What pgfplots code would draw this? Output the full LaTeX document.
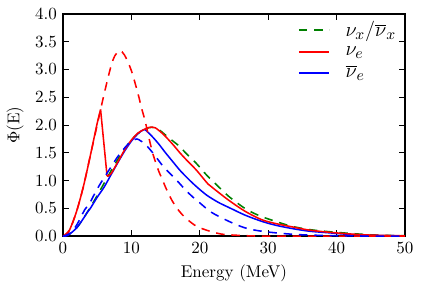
\documentclass[border=0pt]{standalone}
\usepackage{pgfplots}
\pgfplotsset{compat=1.18}
\definecolor{mgreen}{rgb}{0,0.5,0}
\begin{document}
\begin{tikzpicture}
\begin{axis}[
  name=ax,
  scale only axis, width=201pt, height=130.6pt,
  xmin=0, xmax=50, ymin=0, ymax=4,
  xtick={0,10,20,30,40,50},
  ytick={0,0.5,1,1.5,2,2.5,3,3.5,4},
  tick align=inside, major tick length=3.5pt,
  axis line style={line width=0.9pt},
  tick style={line width=0.6pt, black},
  yticklabel style={/pgf/number format/.cd, fixed, fixed zerofill, precision=1},
  xlabel={Energy (MeV)}, ylabel={$\Phi$(E)},
  legend style={draw=none, fill=none, at={(0.985,0.985)}, anchor=north east,
    font=\fontsize{13}{13}\selectfont, row sep=0.5pt, inner sep=0pt,
    /tikz/every odd column/.append style={column sep=7pt}},
  legend cell align=left,
  legend image code/.code={\draw[#1, line width=0.9pt] (0pt,0pt) -- (18pt,0pt);},
  every axis plot/.append style={line width=0.9pt},
]
% green dashed nu_x
\addplot[mgreen, dash pattern=on 5pt off 4pt, smooth, tension=0.5] coordinates {
(0,0) (1,0.04) (2,0.15) (2.5,0.23) (3,0.32) (4,0.52) (5,0.73) (6,0.95) (7,1.17) (8,1.38) (9,1.57) (10,1.73) (11,1.85) (12,1.93) (13,1.96) (14,1.92) (14.9,1.83) (16,1.72) (17.1,1.61) (18,1.49) (19.5,1.31) (21,1.1) (22.5,0.92) (24.2,0.72) (26.6,0.5) (28.5,0.38) (30.5,0.29) (33.4,0.18) (36,0.12) (39,0.08) (42,0.05) (45,0.025) (48,0.012) (50,0.008)};
\addlegendentry{$\nu_x/\overline{\nu}_x$}
% red solid nu_e (rise)
\addplot[red, smooth, tension=0.5] coordinates {
(0,0) (0.5,0.02) (1,0.12) (2,0.45) (3,0.9) (4,1.45) (5,2.03) (5.5,2.28)};
\addlegendentry{$\nu_e$}
% blue solid anti nu_e (rise)
\addplot[blue, smooth, tension=0.5] coordinates {
(0,0) (0.5,0.005) (1,0.04) (2,0.15) (3,0.32) (3.5,0.42) (4,0.5) (5,0.7) (6,0.88) (7,1.1) (8,1.32) (9,1.53) (10,1.71) (11,1.85) (11.7,1.91) (12,1.92)};
\addlegendentry{$\overline{\nu}_e$}
% blue solid fall
\addplot[blue, smooth, tension=0.5, forget plot] coordinates {
(12,1.92) (13,1.8) (14,1.66) (15,1.5) (16,1.35) (17,1.2) (18,1.07) (19,0.95) (20,0.84) (21,0.74) (22,0.66) (23,0.59) (24.2,0.52) (26.6,0.38) (29,0.27) (31,0.2) (33.4,0.14) (36,0.09) (39,0.06) (42,0.03) (45,0.015) (50,0.005)};
% red solid drop
\addplot[red, forget plot] coordinates {(5.5,2.28) (6.45,1.08)};
% red solid rest
\addplot[red, smooth, tension=0.5, forget plot] coordinates {
(6.45,1.08) (7,1.12) (8,1.33) (9,1.55) (10,1.73) (11,1.86) (12,1.93) (12.7,1.96) (13.5,1.95) (14.7,1.83) (16,1.66) (17.1,1.5) (18,1.38) (19.5,1.19) (21.2,0.94) (22,0.86) (24.2,0.65) (26.6,0.45) (29,0.3) (31,0.23) (33.4,0.17) (36,0.11) (39,0.07) (42,0.04) (45,0.02) (50,0.006)};
% red dashed
\addplot[red, dash pattern=on 5pt off 4pt, smooth, tension=0.5, forget plot] coordinates {
(0,0) (1,0.12) (2,0.45) (3,0.9) (4,1.45) (5,2.0) (6,2.55) (7,3.05) (7.6,3.25) (8.3,3.34) (9,3.26) (10,2.98) (11,2.55) (11.5,2.3) (12,2.08) (12.7,1.7) (13.2,1.46) (14,1.17) (14.5,1.03) (15,0.88) (15.5,0.75) (16,0.63) (17,0.45) (18,0.32) (19.5,0.18) (21.2,0.1) (22.5,0.055) (23.7,0.03) (26.6,0.01) (30,0.002) (50,0)};
% blue dashed
\addplot[blue, dash pattern=on 5pt off 4pt, smooth, tension=0.5, forget plot] coordinates {
(0,0) (1,0.05) (2,0.2) (3.2,0.48) (3.85,0.58) (4.4,0.71) (5.2,0.89) (6,1.05) (7.1,1.26) (8,1.43) (9.1,1.6) (10,1.71) (10.8,1.75) (11.3,1.72) (12,1.66) (13.2,1.49) (14.7,1.25) (16.6,1.01) (18,0.82) (19.3,0.67) (20,0.6) (21.7,0.43) (24.2,0.27) (26.6,0.15) (29,0.09) (32,0.05) (35,0.025) (40,0.008) (45,0.002) (50,0)};
\end{axis}
\pgfresetboundingbox
\path[use as bounding box] ([shift={(-37pt,-35.3pt)}]ax.south west) rectangle ([shift={(10pt,8.2pt)}]ax.north east);
\end{tikzpicture}
\end{document}
